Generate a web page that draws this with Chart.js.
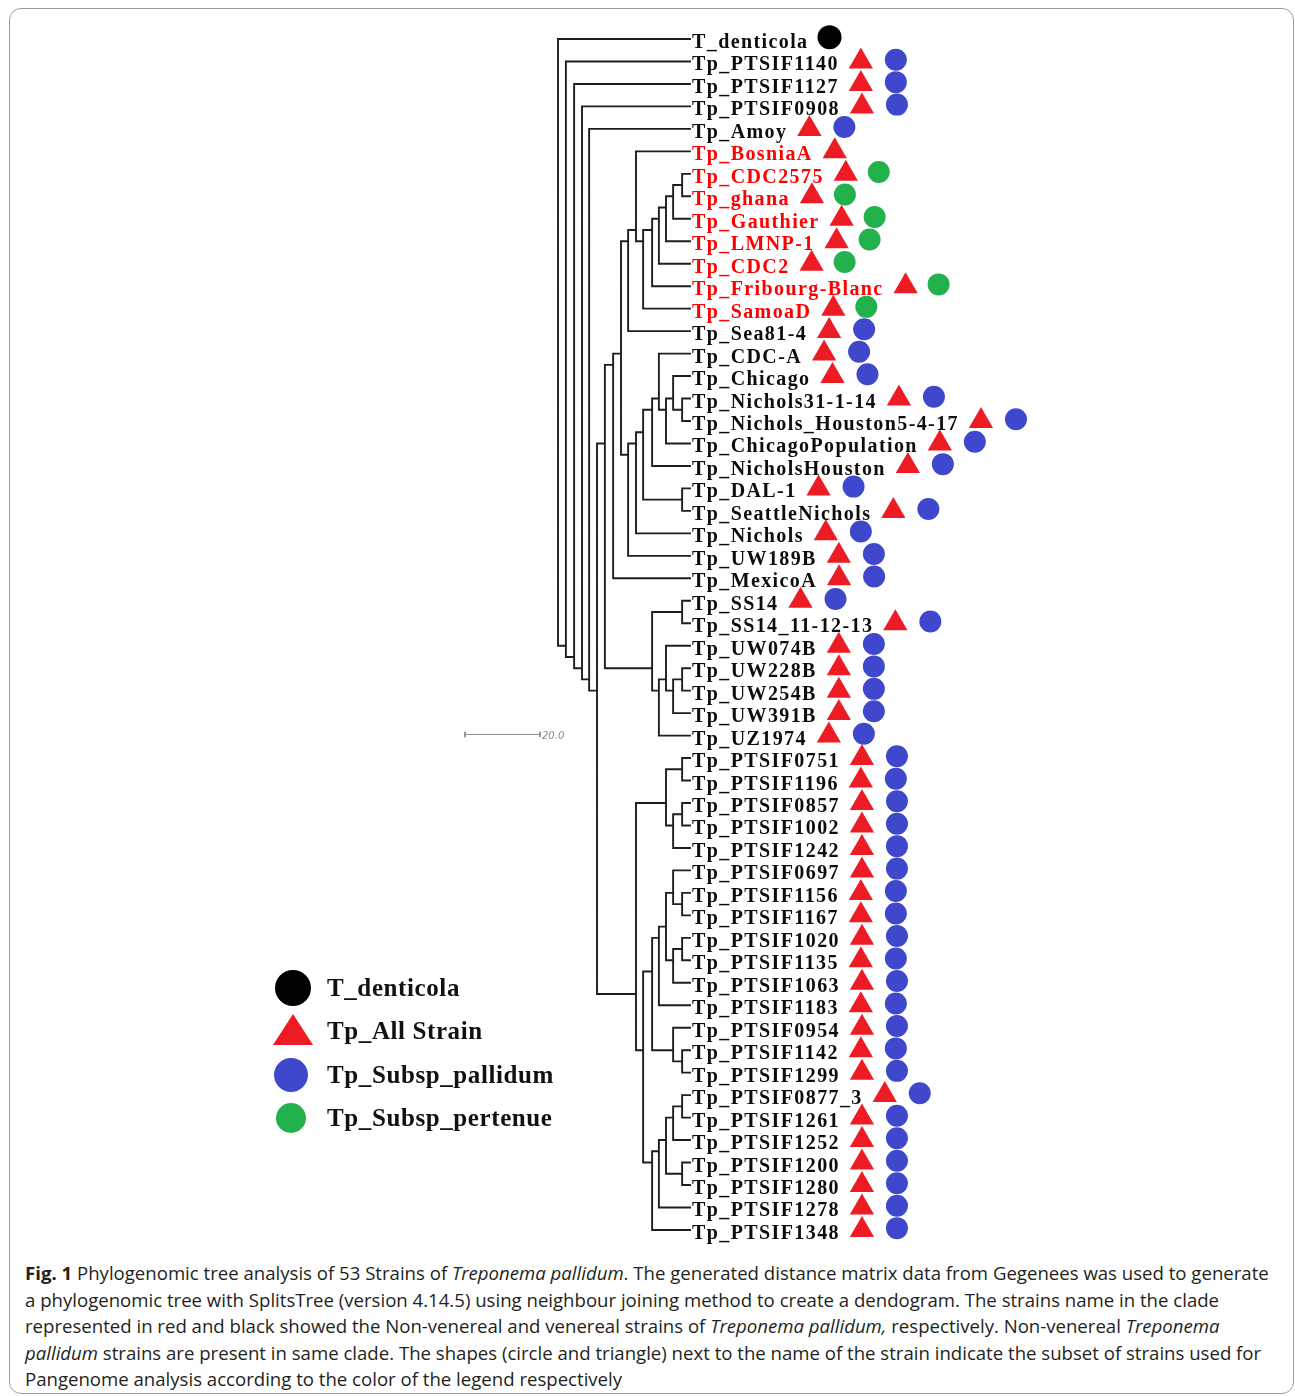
<!DOCTYPE html>
<html>
<head>
<meta charset="utf-8">
<title>Phylogenomic tree of Treponema pallidum strains</title>
<script src="https://cdn.jsdelivr.net/npm/chart.js@4.4.1/dist/chart.umd.min.js"></script>
<style>
  html, body { margin: 0; padding: 0; background: #fff; }
  #fig { position: relative; width: 1295px; height: 1396px; overflow: hidden; }
  #frame { position: absolute; left: 9px; top: 8px; width: 1285px; height: 1386px;
           border: 1.5px solid #9c9c9c; border-radius: 12px; box-sizing: border-box; }
  #wrap { position: absolute; left: 0; top: 0; width: 1295px; height: 1255px; }
  #caption { position: absolute; left: 25px; top: 1260px; font-family: "Open Sans", "Noto Sans", sans-serif;
             font-size: 18.6px; line-height: 26.5px; color: #231f20; white-space: nowrap; }
  #caption b { font-weight: 700; }
</style>
</head>
<body>
<div id="fig">
  <div id="frame"></div>
  <div id="wrap"><canvas id="tree" width="1295" height="1255"></canvas></div>
  <div id="caption">
    <div><b>Fig. 1</b> Phylogenomic tree analysis of 53 Strains of <i>Treponema pallidum</i>. The generated distance matrix data from Gegenees was used to generate</div>
    <div>a phylogenomic tree with SplitsTree (version 4.14.5) using neighbour joining method to create a dendogram. The strains name in the clade</div>
    <div>represented in red and black showed the Non-venereal and venereal strains of <i>Treponema pallidum,</i> respectively. Non-venereal <i>Treponema</i></div>
    <div><i>pallidum</i> strains are present in same clade. The shapes (circle and triangle) next to the name of the strain indicate the subset of strains used for</div>
    <div>Pangenome analysis according to the color of the legend respectively</div>
  </div>
</div>
<script>
// ---- Leaves, top to bottom ----
const leafNames = [
  'T_denticola', 'Tp_PTSIF1140', 'Tp_PTSIF1127', 'Tp_PTSIF0908', 'Tp_Amoy',
  'Tp_BosniaA', 'Tp_CDC2575', 'Tp_ghana', 'Tp_Gauthier', 'Tp_LMNP-1', 'Tp_CDC2',
  'Tp_Fribourg-Blanc', 'Tp_SamoaD', 'Tp_Sea81-4', 'Tp_CDC-A', 'Tp_Chicago',
  'Tp_Nichols31-1-14', 'Tp_Nichols_Houston5-4-17', 'Tp_ChicagoPopulation',
  'Tp_NicholsHouston', 'Tp_DAL-1', 'Tp_SeattleNichols', 'Tp_Nichols', 'Tp_UW189B',
  'Tp_MexicoA', 'Tp_SS14', 'Tp_SS14_11-12-13', 'Tp_UW074B', 'Tp_UW228B', 'Tp_UW254B',
  'Tp_UW391B', 'Tp_UZ1974', 'Tp_PTSIF0751', 'Tp_PTSIF1196', 'Tp_PTSIF0857',
  'Tp_PTSIF1002', 'Tp_PTSIF1242', 'Tp_PTSIF0697', 'Tp_PTSIF1156', 'Tp_PTSIF1167',
  'Tp_PTSIF1020', 'Tp_PTSIF1135', 'Tp_PTSIF1063', 'Tp_PTSIF1183', 'Tp_PTSIF0954',
  'Tp_PTSIF1142', 'Tp_PTSIF1299', 'Tp_PTSIF0877_3', 'Tp_PTSIF1261', 'Tp_PTSIF1252',
  'Tp_PTSIF1200', 'Tp_PTSIF1280', 'Tp_PTSIF1278', 'Tp_PTSIF1348'
];

// Non-venereal clade (labels in red)
const nonVenereal = ['Tp_BosniaA', 'Tp_CDC2575', 'Tp_ghana', 'Tp_Gauthier',
  'Tp_LMNP-1', 'Tp_CDC2', 'Tp_Fribourg-Blanc', 'Tp_SamoaD'];

// Pangenome subsets
const subsetDenticola = ['T_denticola'];
const subsetPertenue = ['Tp_CDC2575', 'Tp_ghana', 'Tp_Gauthier', 'Tp_LMNP-1',
  'Tp_CDC2', 'Tp_Fribourg-Blanc', 'Tp_SamoaD'];
const subsetAllStrain = leafNames.filter(n => n.startsWith('Tp_'));
const subsetPallidum = subsetAllStrain.filter(n => !nonVenereal.includes(n));

// ---- Internal nodes: id, distance from root, children ----
const tipDistance = 35.2;
const cladeIds = [
  'root', 'n2', 'n3', 'n4', 'n5', 'n6', 'n7', 'n8', 'n9', 'n10',
  'y1', 'y2', 'y3', 'y4', 'y5', 'y6', 'y7',
  'c1', 'c2', 'c3', 'c4', 'c5', 'c6', 'c7', 'c8', 'c9',
  's1', 's2', 's3', 's4', 's5', 's6',
  'p0', 'p1', 'p2', 'p3', 'p4', 'p5', 'p6', 'p7', 'p8', 'p9', 'p10', 'p11',
  'p12', 'p13', 'p14', 'p15', 'p16', 'p17', 'p18', 'p19', 'p20'
];
const cladeDistance = [
  0.0, 2.1, 4.3, 6.4, 8.3, 10.4, 12.5, 14.7, 16.8, 18.7,
  20.8, 22.7, 25.1, 26.9, 28.8, 30.7, 33.1,
  18.7, 20.8, 22.7, 25.1, 26.9, 28.8, 30.7, 33.1, 33.1,
  25.1, 33.1, 26.9, 28.8, 30.7, 33.1,
  20.8, 28.8, 33.1, 30.7, 33.1, 22.7, 25.1, 26.9, 28.8, 30.7, 33.1, 30.7,
  33.1, 30.7, 33.1, 25.1, 26.9, 28.8, 30.7, 33.1, 33.1
];
const cladeChildren = [
  ['T_denticola', 'n2'], ['Tp_PTSIF1140', 'n3'], ['Tp_PTSIF1127', 'n4'],
  ['Tp_PTSIF0908', 'n5'], ['Tp_Amoy', 'n6'], ['n7', 'p0'], ['n8', 's1'],
  ['n9', 'Tp_MexicoA'], ['n10', 'c1'], ['y1', 'Tp_Sea81-4'],
  ['Tp_BosniaA', 'y2'], ['y3', 'Tp_SamoaD'], ['y4', 'Tp_Fribourg-Blanc'],
  ['y5', 'Tp_CDC2'], ['y6', 'Tp_LMNP-1'], ['y7', 'Tp_Gauthier'], ['Tp_CDC2575', 'Tp_ghana'],
  ['c2', 'Tp_UW189B'], ['c3', 'Tp_Nichols'], ['c4', 'c9'], ['c5', 'Tp_NicholsHouston'],
  ['Tp_CDC-A', 'c6'], ['c7', 'Tp_ChicagoPopulation'], ['Tp_Chicago', 'c8'],
  ['Tp_Nichols31-1-14', 'Tp_Nichols_Houston5-4-17'], ['Tp_DAL-1', 'Tp_SeattleNichols'],
  ['s2', 's3'], ['Tp_SS14', 'Tp_SS14_11-12-13'], ['s4', 'Tp_UZ1974'],
  ['Tp_UW074B', 's5'], ['s6', 'Tp_UW391B'], ['Tp_UW228B', 'Tp_UW254B'],
  ['p1', 'p5'], ['p2', 'p3'], ['Tp_PTSIF0751', 'Tp_PTSIF1196'], ['p4', 'Tp_PTSIF1242'],
  ['Tp_PTSIF0857', 'Tp_PTSIF1002'], ['p6', 'p15'], ['p7', 'p13'], ['p8', 'Tp_PTSIF1183'],
  ['p9', 'p11'], ['Tp_PTSIF0697', 'p10'], ['Tp_PTSIF1156', 'Tp_PTSIF1167'],
  ['p12', 'Tp_PTSIF1063'], ['Tp_PTSIF1020', 'Tp_PTSIF1135'],
  ['Tp_PTSIF0954', 'p14'], ['Tp_PTSIF1142', 'Tp_PTSIF1299'],
  ['p16', 'Tp_PTSIF1348'], ['p17', 'Tp_PTSIF1278'], ['p18', 'p20'],
  ['p19', 'Tp_PTSIF1252'], ['Tp_PTSIF0877_3', 'Tp_PTSIF1261'], ['Tp_PTSIF1200', 'Tp_PTSIF1280']
];

// Scale bar
const scaleBarLength = 20.0;
const scaleBarLabel = '20.0';

// Legend entries
const legendLabels = ['T_denticola', 'Tp_All Strain', 'Tp_Subsp_pallidum', 'Tp_Subsp_pertenue'];

// ---- Styling ----
const COLORS = { branch: '#1e1e1e', red: '#ed1c24', blue: '#3f48cc', green: '#22b14c',
                 black: '#000000', labelRed: '#ff0000', labelBlack: '#0d0d0d', scale: '#8a8a8a' };
const LEAF_FONT = 'bold 20px "Liberation Serif", "Times New Roman", serif';
const LEAF_SPACING = '1.4px';
const LEGEND_FONT = 'bold 25px "Liberation Serif", "Times New Roman", serif';
const LEGEND_SPACING = '0.6px';

// ---- Tree geometry from the clade table ----
const cladeIndex = new Map(cladeIds.map((id, k) => [id, k]));
const leafIndex = new Map(leafNames.map((n, i) => [n, i]));

function leavesUnder(id) {
  if (leafIndex.has(id)) return [leafIndex.get(id)];
  return cladeChildren[cladeIndex.get(id)].flatMap(leavesUnder);
}
function rowOf(id) {
  const rows = leavesUnder(id);
  return rows.reduce((a, b) => a + b, 0) / rows.length;
}
function distOf(id) {
  return leafIndex.has(id) ? tipDistance : cladeDistance[cladeIndex.get(id)];
}

const branchPoints = [];
const gap = { x: null, y: null };
cladeIds.forEach((id, k) => {
  const d = cladeDistance[k];
  const kids = cladeChildren[k];
  const rows = kids.map(rowOf);
  branchPoints.push({ x: d, y: Math.min(...rows) }, { x: d, y: Math.max(...rows) }, gap);
  kids.forEach((kid, j) => {
    branchPoints.push({ x: d, y: rows[j] }, { x: distOf(kid), y: rows[j] }, gap);
  });
});

// Scale bar placed left of the tree, at the height of the UZ1974 row
const scaleRow = leafIndex.get('Tp_UZ1974') - 0.05;
const scaleStart = -24.8;
const scaleEnd = scaleStart + scaleBarLength;
const scalePoints = [
  { x: scaleStart, y: scaleRow - 0.12 }, { x: scaleStart, y: scaleRow + 0.12 }, gap,
  { x: scaleStart, y: scaleRow }, { x: scaleEnd, y: scaleRow }, gap,
  { x: scaleEnd, y: scaleRow - 0.12 }, { x: scaleEnd, y: scaleRow + 0.12 }
];

// ---- Plugins ----
const leafLabelPlugin = {
  id: 'leafLabels',
  afterDatasetsDraw(chart) {
    const { ctx, scales: { x, y } } = chart;
    ctx.save();
    ctx.font = LEAF_FONT;
    ctx.letterSpacing = LEAF_SPACING;
    ctx.textBaseline = 'alphabetic';
    ctx.textAlign = 'left';
    const x0 = x.getPixelForValue(tipDistance) + 2;
    leafNames.forEach((name, i) => {
      ctx.fillStyle = nonVenereal.includes(name) ? COLORS.labelRed : COLORS.labelBlack;
      ctx.fillText(name, x0, y.getPixelForValue(i) + 9);
    });
    // scale bar label
    ctx.letterSpacing = '0px';
    ctx.font = 'italic 10px "DejaVu Sans", sans-serif';
    ctx.fillStyle = COLORS.scale;
    ctx.textBaseline = 'middle';
    ctx.fillText(scaleBarLabel, x.getPixelForValue(scaleEnd) + 2, y.getPixelForValue(scaleRow) + 2);
    ctx.restore();
  }
};

const legendPlugin = {
  id: 'legendBox',
  afterDraw(chart) {
    const ctx = chart.ctx;
    const lx = 292, rows = [988, 1031, 1075, 1118], tx = 327;
    ctx.save();
    // black circle
    ctx.fillStyle = COLORS.black;
    ctx.beginPath(); ctx.arc(lx + 1, rows[0], 18, 0, Math.PI * 2); ctx.fill();
    // red triangle
    ctx.fillStyle = COLORS.red;
    ctx.beginPath();
    ctx.moveTo(lx + 1, rows[1] - 17);
    ctx.lineTo(lx + 21, rows[1] + 14);
    ctx.lineTo(lx - 19, rows[1] + 14);
    ctx.closePath(); ctx.fill();
    // blue circle
    ctx.fillStyle = COLORS.blue;
    ctx.beginPath(); ctx.arc(lx - 1, rows[2], 17, 0, Math.PI * 2); ctx.fill();
    // green circle
    ctx.fillStyle = COLORS.green;
    ctx.beginPath(); ctx.arc(lx - 1, rows[3], 15, 0, Math.PI * 2); ctx.fill();
    ctx.fillStyle = '#111';
    ctx.font = LEGEND_FONT;
    ctx.letterSpacing = LEGEND_SPACING;
    ctx.textBaseline = 'alphabetic';
    legendLabels.forEach((t, k) => ctx.fillText(t, tx, rows[k] + 8));
    ctx.restore();
  }
};

// ---- Chart ----
const markerBase = { type: 'scatter', borderWidth: 0, pointHoverRadius: 0 };
const chart = new Chart(document.getElementById('tree'), {
  type: 'scatter',
  data: {
    datasets: [
      { label: 'branches', data: branchPoints, showLine: true, spanGaps: false,
        borderColor: COLORS.branch, borderWidth: 1.9, borderCapStyle: 'square',
        pointRadius: 0, pointHoverRadius: 0, order: 5 },
      { label: 'scale', data: scalePoints, showLine: true, spanGaps: false,
        borderColor: COLORS.scale, borderWidth: 1, pointRadius: 0, order: 5 },
      { ...markerBase, label: 'T_denticola', data: [], pointStyle: 'circle',
        pointRadius: 12, backgroundColor: COLORS.black },
      { ...markerBase, label: 'Tp_All Strain', data: [], pointStyle: 'triangle',
        pointRadius: 14, backgroundColor: COLORS.red },
      { ...markerBase, label: 'Tp_Subsp_pallidum', data: [], pointStyle: 'circle',
        pointRadius: 11, backgroundColor: COLORS.blue },
      { ...markerBase, label: 'Tp_Subsp_pertenue', data: [], pointStyle: 'circle',
        pointRadius: 11, backgroundColor: COLORS.green }
    ]
  },
  options: {
    responsive: false,
    animation: false,
    events: [],
    layout: { padding: 0, autoPadding: false },
    plugins: { legend: { display: false }, tooltip: { enabled: false } },
    scales: {
      x: { type: 'linear', min: -148.8, max: 196.53, display: false },
      y: { type: 'linear', min: -1.7357, max: 54.115, reverse: true, display: false }
    }
  },
  plugins: [leafLabelPlugin, legendPlugin]
});

// Subset markers follow the end of each label
(function placeMarkers() {
  const { ctx, scales: { x } } = chart;
  ctx.save();
  ctx.font = LEAF_FONT;
  ctx.letterSpacing = LEAF_SPACING;
  const x0 = x.getPixelForValue(tipDistance) + 2;
  const [dent, all, pall, pert] = [2, 3, 4, 5].map(k => chart.data.datasets[k].data);
  leafNames.forEach((name, i) => {
    const end = x0 + ctx.measureText(name).width;
    if (subsetDenticola.includes(name)) {
      dent.push({ x: x.getValueForPixel(end + 21), y: i - 0.08 });
      return;
    }
    const triPx = end + 22;
    if (subsetAllStrain.includes(name)) all.push({ x: x.getValueForPixel(triPx), y: i });
    if (subsetPallidum.includes(name)) pall.push({ x: x.getValueForPixel(triPx + 35), y: i - 0.08 });
    if (subsetPertenue.includes(name)) pert.push({ x: x.getValueForPixel(triPx + 33), y: i - 0.08 });
  });
  ctx.restore();
  chart.update('none');
})();
</script>
</body>
</html>
